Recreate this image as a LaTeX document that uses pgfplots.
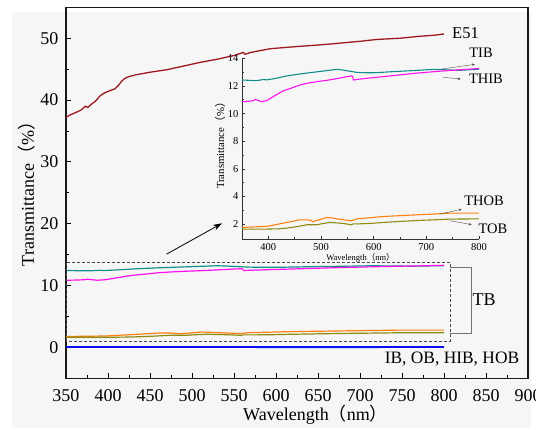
\documentclass[border=0pt]{standalone}
\usepackage{pgfplots}
\pgfplotsset{compat=1.18}
\usepackage{fontspec}
\setmainfont{Liberation Serif}
\newfontfamily\cjk{Noto Sans CJK SC}
\usetikzlibrary{arrows.meta}
\definecolor{bg}{HTML}{F6F6F6}
\definecolor{cE}{HTML}{A01820}
\definecolor{cTIB}{HTML}{10908C}
\definecolor{cTHIB}{HTML}{FF10F0}
\definecolor{cTHOB}{HTML}{FF8010}
\definecolor{cTOB}{HTML}{8C8C10}
\definecolor{cB}{HTML}{0A10F0}

\pgfplotstableread{
x y
350 37.2
355 37.6
362 38.0
368 38.4
373 39.0
376 38.8
380 39.3
385 39.8
390 40.6
395 41.1
400 41.4
408 41.8
412 42.3
416 43.0
420 43.5
425 43.8
434 44.1
450 44.5
470 44.9
490 45.5
510 46.1
530 46.6
550 47.2
561 47.7
563 47.4
570 47.7
593 48.3
620 48.6
650 48.9
668 49.1
700 49.5
720 49.8
748 50.0
770 50.3
790 50.5
800 50.7
}\tE

\pgfplotstableread{
x y
350 12.43
365 12.40
378 12.38
390 12.46
397 12.44
410 12.52
435 12.72
455 12.84
479 12.96
505 13.08
530 13.20
540 13.16
549 13.10
568 12.98
590 12.95
606 12.96
630 13.02
650 13.06
680 13.12
714 13.20
740 13.16
764 13.13
785 13.18
800 13.20
}\tTIB

\pgfplotstableread{
x y
350 10.86
360 10.88
372 10.94
375 11.03
381 10.94
387 10.86
397 10.94
409 11.22
428 11.64
445 11.86
460 12.07
475 12.20
492 12.31
510 12.40
523 12.48
540 12.60
549 12.67
558 12.72
560 12.70
561.5 12.43
575 12.50
587 12.55
620 12.68
650 12.80
680 12.92
714 13.03
745 13.12
777 13.20
800 13.27
}\tTHIB

\pgfplotstableread{
x y
350 1.76
375 1.80
397 1.84
412 1.94
428 2.07
445 2.19
460 2.31
476 2.31
485 2.19
496 2.30
511 2.48
523 2.43
533 2.36
543 2.31
558 2.24
568 2.38
590 2.45
618 2.55
650 2.61
682 2.67
715 2.73
745 2.79
770 2.79
800 2.79
}\tTHOB

\pgfplotstableread{
x y
350 1.64
375 1.64
397 1.64
420 1.66
435 1.71
455 1.82
473 1.95
492 1.95
505 2.05
517 2.12
536 2.07
550 2.00
558 1.95
561 2.02
574 2.02
595 2.05
618 2.12
650 2.19
682 2.26
715 2.31
745 2.36
775 2.37
800 2.38
}\tTOB

\begin{document}
\begin{tikzpicture}[x=1pt,y=1pt]
\useasboundingbox (0pt,0pt) rectangle (536pt,430pt);
\fill[bg] (11.7pt,2pt) rectangle (531pt,418.3pt);

% main axis
\begin{axis}[
  at={(66pt,51.7pt)}, anchor=south west,
  width=462pt, height=371pt, scale only axis,
  xmin=350, xmax=900, ymin=-5, ymax=55,
  xtick={350,400,...,900}, ytick={0,10,...,50},
  minor x tick num=1, minor y tick num=1,
  xtick pos=bottom, ytick pos=left,
  tick align=inside,
  major tick length=5pt, minor tick length=3pt,
  every tick/.style={black, line width=0.9pt},
  axis line style={line width=1.2pt, black!90},
  /pgf/number format/assume math mode=true,
  tick label style={font=\fontsize{18}{20}\selectfont},
  xticklabel style={anchor=base, yshift=-23.2pt},
  yticklabel style={xshift=-4pt},
  clip=false,
]
\addplot[cE, line width=1.3pt] table[x=x,y=y]{\tE};
\addplot[cTIB, line width=1.2pt] table[x=x,y=y]{\tTIB};
\addplot[cTHIB, line width=1.2pt] table[x=x,y=y]{\tTHIB};
\addplot[cTHOB, line width=1.2pt] table[x=x,y=y]{\tTHOB};
\addplot[cTOB, line width=1.2pt] table[x=x,y=y]{\tTOB};
\addplot[cB, line width=1.8pt] coordinates {(350,0.05) (500,0.05) (650,0.04) (800,0.05)};
\draw[black!70, densely dashed, line width=0.6pt] (axis cs:350,1) rectangle (axis cs:807,13.8);
\draw[black!55, line width=0.8pt] (axis cs:807,12.9) -- (axis cs:832.5,12.9) -- (axis cs:832.5,2.2) -- (axis cs:807,2.2);
\end{axis}

% inset axis
\begin{axis}[
  at={(242pt,190.7pt)}, anchor=south west,
  width=237pt, height=181pt, scale only axis,
  xmin=350, xmax=800, ymin=0.9, ymax=14,
  xtick={400,500,...,800}, ytick={2,4,...,14},
  minor x tick num=1, minor y tick num=1,
  axis lines*=left,
  tick align=inside,
  major tick length=3pt, minor tick length=2pt,
  every tick/.style={black!80, line width=0.6pt},
  axis line style={line width=0.8pt, black!80},
  /pgf/number format/assume math mode=true,
  tick label style={font=\fontsize{10.5}{12}\selectfont},
  xticklabel style={yshift=-1pt},
  yticklabel style={xshift=0pt},
  clip=false,
]
\addplot[cTIB, line width=1.1pt] table[x=x,y=y]{\tTIB};
\addplot[cTHIB, line width=1.1pt] table[x=x,y=y]{\tTHIB};
\addplot[cTHOB, line width=1.1pt] table[x=x,y=y]{\tTHOB};
\addplot[cTOB, line width=1.1pt] table[x=x,y=y]{\tTOB};
\end{axis}

% labels (picture coordinates: y = 430 - pixel row)
\node[font=\fontsize{18}{20}\selectfont, anchor=base, inner sep=0pt] at (315.5pt,9pt) {Wavelength{\cjk （}nm{\cjk ）}};
\node[font=\fontsize{18}{20}\selectfont, rotate=90] at (27pt,240.5pt) {Transmittance{\cjk （}\%{\cjk ）}};
\node[font=\fontsize{8.5}{10}\selectfont] at (360.5pt,172.3pt) {Wavelength{\cjk （}nm{\cjk ）}};
\node[font=\fontsize{10.8}{12}\selectfont, rotate=90] at (220pt,287pt) {Transmittance{\cjk （}\%{\cjk ）}};

\node[font=\fontsize{16.5}{18}\selectfont, anchor=west, inner sep=0pt] at (452pt,396.5pt) {E51};
\node[font=\fontsize{14.5}{16}\selectfont] at (481pt,377.5pt) {TIB};
\node[font=\fontsize{14.5}{16}\selectfont] at (486pt,351.5pt) {THIB};
\node[font=\fontsize{14.5}{16}\selectfont] at (484pt,229pt) {THOB};
\node[font=\fontsize{14.5}{16}\selectfont] at (493pt,201pt) {TOB};
\node[font=\fontsize{18}{20}\selectfont] at (484pt,130.7pt) {TB};
\node[font=\fontsize{17.4}{19}\selectfont] at (452pt,70.7pt) {IB, OB, HIB, HOB};

\draw[black!70, line width=0.4pt, -{Stealth[length=3pt,width=2.5pt]}] (440pt,360.7pt) -- (475pt,365.7pt);
\draw[black!70, line width=0.4pt, -{Stealth[length=3pt,width=2.5pt]}] (443.3pt,352.7pt) -- (460.7pt,351pt);
\draw[black!70, line width=0.4pt, -{Stealth[length=3pt,width=2.5pt]}] (440pt,216pt) -- (461.7pt,220.7pt);
\draw[black!70, line width=0.4pt, -{Stealth[length=3pt,width=2.5pt]}] (450pt,209.3pt) -- (471.7pt,205.3pt);
\draw[black, line width=0.8pt, -{Stealth[length=9pt,width=6pt]}] (166.5pt,175.8pt) -- (222pt,206.7pt);
\end{tikzpicture}
\end{document}
